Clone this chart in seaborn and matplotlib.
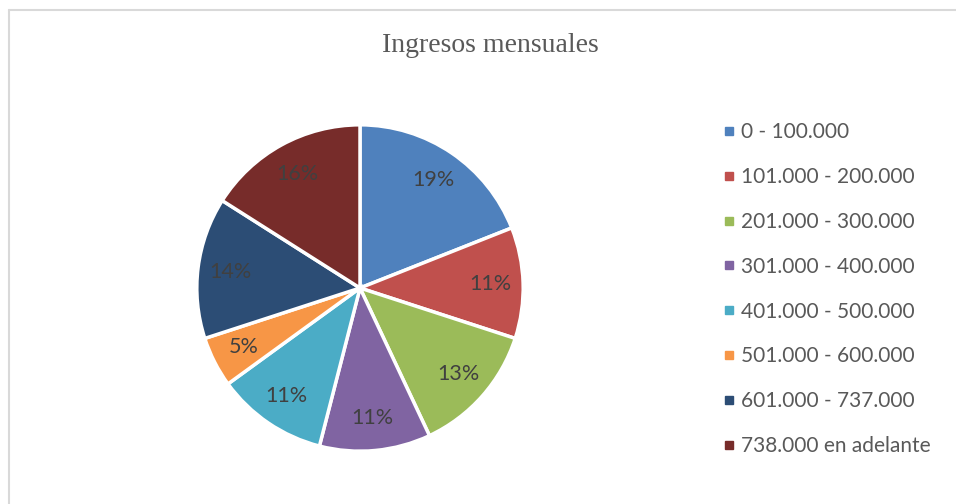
import matplotlib
matplotlib.use("Agg")
import matplotlib.pyplot as plt
from matplotlib.lines import Line2D
import seaborn as sns

# Monthly income brackets and their shares (%)
categories = [
    "0 - 100.000",
    "101.000 - 200.000",
    "201.000 - 300.000",
    "301.000 - 400.000",
    "401.000 - 500.000",
    "501.000 - 600.000",
    "601.000 - 737.000",
    "738.000 en adelante",
]
shares = [19, 11, 13, 11, 11, 5, 14, 16]
colors = ["#4F81BD", "#C0504D", "#9BBB59", "#8064A2",
          "#4BACC6", "#F79646", "#2C4D75", "#772C2A"]
title = "Ingresos mensuales"

sns.set_theme(style="white")
plt.rcParams["font.family"] = ["Lato", "DejaVu Sans"]

W, H = 956, 504
fig = plt.figure(figsize=(W / 100, H / 100), dpi=100)
fig.patch.set_facecolor("white")

# Pie axes: centre (360, 288) px, radius 164 px
cx, cy, r = 360, 288, 164
ax = fig.add_axes([(cx - r) / W, (H - cy - r) / H, 2 * r / W, 2 * r / H])
wedges, _, autotexts = ax.pie(
    shares,
    colors=colors,
    startangle=90,
    counterclock=False,
    autopct=lambda p: f"{p:.0f}%",
    pctdistance=0.8,
    radius=1.0,
    wedgeprops=dict(edgecolor="white", linewidth=2.5),
    textprops=dict(color="#404040", fontsize=15.5),
)
ax.set_xlim(-1.005, 1.005)
ax.set_ylim(-1.005, 1.005)
ax.set_aspect("equal")
ax.axis("off")

fig.text(490 / W, 1 - 45 / H, title, ha="center", va="center",
         fontsize=20, color="#595959", family=["Liberation Serif", "DejaVu Serif"])

# Legend on the right
handles = [Line2D([], [], marker="s", linestyle="none", markersize=5.5,
                  markerfacecolor=c, markeredgecolor=c) for c in colors]
fig.legend(handles, categories, loc="upper left",
           bbox_to_anchor=(714 / W, 1 - 114 / H), frameon=False,
           fontsize=15, labelcolor="#595959", handlelength=0.6,
           handletextpad=0.3, labelspacing=1.19, borderaxespad=0)

# Light chart-area border (top and left edges)
fig.add_artist(Line2D([8.5 / W, 1], [1 - 9.5 / H, 1 - 9.5 / H],
                      transform=fig.transFigure, color="#D9D9D9", linewidth=1.5))
fig.add_artist(Line2D([8.5 / W, 8.5 / W], [0, 1 - 9.5 / H],
                      transform=fig.transFigure, color="#D9D9D9", linewidth=1.5))

fig.savefig("out.png", dpi=100, facecolor="white")
